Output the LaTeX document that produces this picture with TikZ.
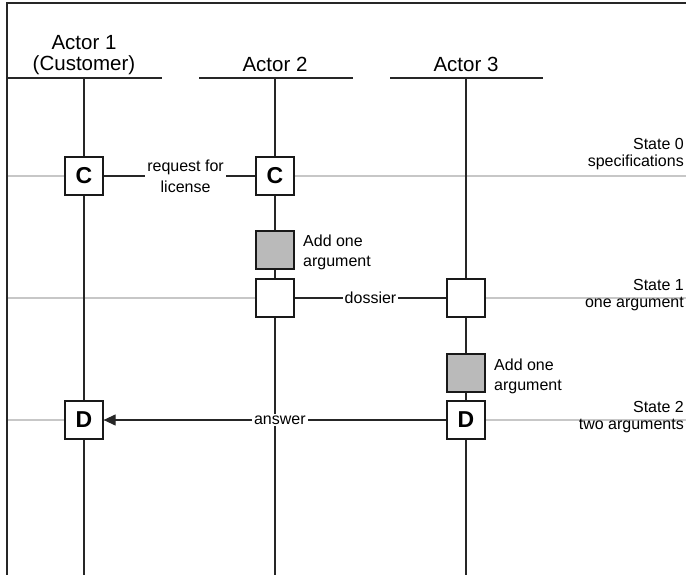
\documentclass[tikz,border=0pt]{standalone}
\usepackage{fontspec}
\setmainfont{Liberation Sans}
\usetikzlibrary{arrows.meta}
\begin{document}
\begin{tikzpicture}[x=1pt,y=-1pt,
  frameline/.style={draw=black!85,line width=1.6pt},
  life/.style={draw=black!85,line width=1.3pt},
  stateline/.style={draw=black!22,line width=1.2pt},
  box/.style={draw=black!90,line width=1.3pt,fill=white,minimum size=38pt,inner sep=0pt,font=\fontsize{23}{23}\selectfont\bfseries},
  graybox/.style={box,fill=black!27},
  actor/.style={font=\fontsize{20.5}{20.5}\selectfont,align=center},
  lbl/.style={font=\fontsize{16}{21}\selectfont,align=center,fill=white,inner sep=2pt},
  side/.style={font=\fontsize{16}{20}\selectfont,align=left,anchor=west,inner sep=0pt},
  statelbl/.style={font=\fontsize{16}{17}\selectfont,align=right,anchor=east,inner sep=0pt}
]
\useasboundingbox (0,0) rectangle (686,575);
% frame
\coordinate (ftr) at (686,3);
\coordinate (ftl) at (7,3);
\coordinate (fbl) at (7,575);
\draw[frameline] (ftr) -- (ftl) -- (fbl);
% state lines
\foreach \y/\n in {176/s0,298/s1,420/s2}{
  \coordinate (\n l) at (8,\y);
  \coordinate (\n r) at (686,\y);
  \draw[stateline] (\n l) -- (\n r);
}
% headers
\node[actor] (a1) at (84,55) {Actor 1\\(Customer)};
\node[actor] (a2) at (275,64) {Actor 2};
\node[actor] (a3) at (466,64) {Actor 3};
\foreach \x/\l/\r/\n in {84/8/162/1,275/199/353/2,466/390/543/3}{
  \coordinate (hl\n) at (\l,78);
  \coordinate (hr\n) at (\r,78);
  \coordinate (h\n) at (\x,78);
  \coordinate (b\n) at (\x,575);
  \draw[life] (hl\n) -- (hr\n);
  \draw[life] (h\n) -- (b\n);
}
% boxes
\node[box] (c1) at (84,176) {C};
\node[box] (c2) at (275,176) {C};
\node[graybox] (g1) at (275,250) {};
\node[box] (e2) at (275,298) {};
\node[box] (e3) at (466,298) {};
\node[graybox] (g2) at (466,373) {};
\node[box] (d1) at (84,420) {D};
\node[box] (d3) at (466,420) {D};
% connectors
\draw[life] (c1) -- (c2) node[lbl,pos=0.54] {request for\\license};
\draw[life] (e2) -- (e3) node[lbl,midway] {dossier};
\draw[life,-{Triangle[length=12pt,width=11pt]}] (d3) -- (d1) node[lbl,pos=0.486] {answer};
% side labels
\node[side] (t1) at (303,252) {Add one\\argument};
\node[side] (t2) at (494,376) {Add one\\argument};
% state labels
\node[statelbl] (sl0) at (684,154) {State 0\\specifications};
\node[statelbl] (sl1) at (684,295) {State 1\\one argument};
\node[statelbl] (sl2) at (684,417) {State 2\\two arguments};
\end{tikzpicture}
\end{document}
